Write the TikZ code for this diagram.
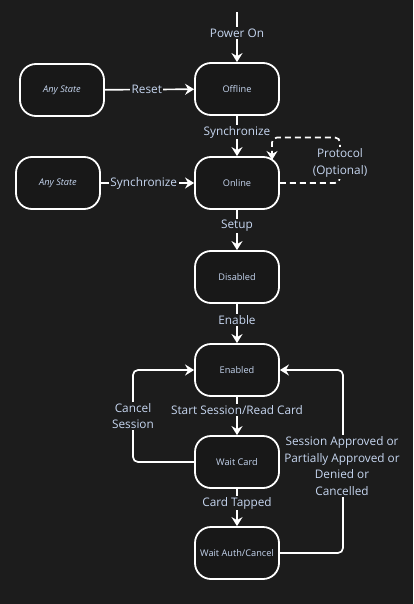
\documentclass[tikz,border=0pt]{standalone}
\usepackage{fontspec}
\setmainfont{Open Sans}
\usetikzlibrary{arrows.meta}
\definecolor{bg}{HTML}{1C1C1C}
\definecolor{boxfill}{HTML}{181818}
\definecolor{txt}{HTML}{C6D6F0}
\tikzset{
  state/.style={draw=white, line width=1.8pt, fill=boxfill, rounded corners=16pt,
    minimum width=84pt, minimum height=52pt, inner sep=2pt, text=txt,
    font=\fontsize{9.2}{11}\selectfont},
  anystate/.style={state, font=\fontsize{9.2}{11}\selectfont\itshape},
  conn/.style={draw=white, line width=1.7pt, -{Stealth[length=9pt,width=11pt,inset=3pt]}},
  dconn/.style={conn, dashed, dash pattern=on 6pt off 4pt},
  lbl/.style={fill=bg, text=txt, inner sep=1.5pt, align=center,
    font=\fontsize{11.8}{16.8}\selectfont}
}
\begin{document}
\begin{tikzpicture}[x=1pt,y=-1pt]
\fill[bg] (0,0) rectangle (413,604);
\useasboundingbox (0,0) rectangle (413,604);

\coordinate (start) at (237,12);
\node[state] (off) at (237,89) {Offline};
\node[anystate] (any1) at (62,90) {Any State};
\node[state] (onl) at (237,183) {Online};
\node[anystate] (any2) at (58,183) {Any State};
\node[state] (dis) at (237,277) {Disabled};
\node[state] (ena) at (237,370) {Enabled};
\node[state] (wc) at (237,462) {Wait Card};
\node[state] (wa) at (237,553) {Wait Auth/Cancel};

\coordinate (protoA) at (340,137.5);
\coordinate (protoB) at (272,137.5);
\coordinate (protoEnd) at (272,160);
\coordinate (cancA) at (133,462);
\coordinate (cancB) at (133,370);
\coordinate (apprA) at (343,553);
\coordinate (apprB) at (343,370);

\draw[conn] (start) -- node[lbl, pos=0.42] {Power On} (off);
\draw[conn] (any1) -- node[lbl, pos=0.47] {Reset} (off);
\draw[conn] (off) -- node[lbl, pos=0.4] {Synchronize} (onl);
\draw[conn] (any2) -- node[lbl, pos=0.46] {Synchronize} (onl);
\draw[dconn, rounded corners=5pt] (onl.east) -| (protoA) -- (protoB) -- (protoEnd);
\node[lbl] (protolbl) at (340,163) {Protocol\\(Optional)};
\draw[conn] (onl) -- node[lbl, pos=0.4] {Setup} (dis);
\draw[conn] (dis) -- node[lbl, pos=0.4] {Enable} (ena);
\draw[conn] (ena) -- node[lbl, pos=0.35] {Start Session/Read Card} (wc);
\draw[conn] (wc) -- node[lbl, pos=0.38] {Card Tapped} (wa);
\draw[conn, rounded corners=5pt] (wc.west) -- (cancA) -- (cancB) -- (ena.west);
\node[lbl] (canclbl) at (133,416) {Cancel\\Session};
\draw[conn, rounded corners=5pt] (wa.east) -- (apprA) -- (apprB) -- (ena.east);
\node[lbl] (apprlbl) at (342,466) {Session Approved or\\Partially Approved or\\Denied or\\Cancelled};
\end{tikzpicture}
\end{document}
